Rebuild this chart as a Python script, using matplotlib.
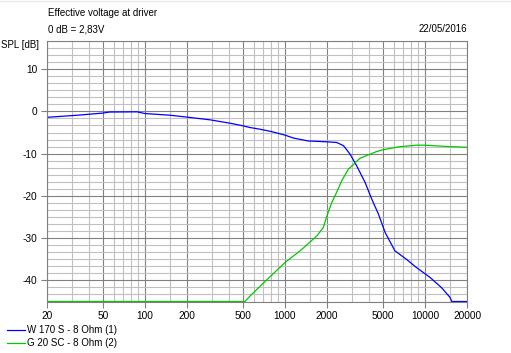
import numpy as np
import matplotlib.pyplot as plt
from matplotlib.ticker import FixedLocator, NullFormatter

plt.rcParams['font.family'] = ['Liberation Sans', 'DejaVu Sans']
plt.rcParams['axes.unicode_minus'] = False

# W 170 S - 8 Ohm (1)
w_freq = [20, 33, 50, 56, 88, 100, 151, 200, 293, 407, 500, 560, 660, 784, 1000,
          1150, 1470, 2000, 2340, 2620, 2920, 3260, 3740, 4180, 4660, 5210, 6110,
          7380, 8740, 10890, 13140, 15100, 15600, 20000]
w_db = [-1.4, -0.9, -0.4, -0.15, -0.1, -0.5, -0.9, -1.35, -2.0, -2.8, -3.4, -3.8,
        -4.2, -4.7, -5.6, -6.3, -7.0, -7.2, -7.35, -8.1, -10.1, -12.9, -16.8, -20.8,
        -24.3, -28.7, -33.0, -35.0, -37.0, -39.3, -41.7, -44.0, -45.0, -45.0]

# G 20 SC - 8 Ohm (2)
g_freq = [20, 520, 560, 660, 1000, 1286, 1690, 1880, 2000, 2160, 2340, 2550, 2840,
          3440, 4520, 5000, 6460, 8740, 10000, 14340, 20000]
g_db = [-45.0, -45.0, -43.8, -41.5, -35.8, -33.0, -29.5, -27.5, -24.7, -21.6, -19.2,
        -16.4, -13.7, -11.1, -9.5, -9.1, -8.4, -8.0, -8.0, -8.3, -8.5]

x_major = [20, 50, 100, 200, 500, 1000, 2000, 5000, 10000, 20000]
x_minor = [30, 40, 60, 70, 80, 90, 150, 300, 400, 600, 700, 800, 900, 1500,
           3000, 4000, 6000, 7000, 8000, 9000, 15000]
y_major = [-40, -30, -20, -10, 0, 10]
y_minor = list(np.arange(-27, 11) * 5 / 3)

fig = plt.figure(figsize=(5.11, 3.53), dpi=100)
ax = fig.add_axes([47 / 511, 51.5 / 353, 420 / 511, 260.5 / 353])

ax.plot(w_freq, w_db, color='#0000ff', lw=0.9)
ax.plot(g_freq, g_db, color='#00c800', lw=0.9)

ax.set_xscale('log')
ax.set_xlim(20, 20000)
ax.set_ylim(-45, 50 / 3)

ax.xaxis.set_major_locator(FixedLocator(x_major))
ax.xaxis.set_minor_locator(FixedLocator(x_minor))
ax.xaxis.set_minor_formatter(NullFormatter())
ax.set_xticklabels([str(v) for v in x_major])
ax.yaxis.set_major_locator(FixedLocator(y_major))
ax.yaxis.set_minor_locator(FixedLocator(y_minor))

ax.set_axisbelow(True)
ax.grid(which='minor', color='#c0c0c0', lw=0.8)
ax.grid(which='major', color='#808080', lw=0.8)
ax.tick_params(which='major', length=4, width=0.8, color='#808080',
               labelsize=7.3, pad=3)
ax.tick_params(which='minor', length=0)
for s in ax.spines.values():
    s.set_color('#808080')
    s.set_linewidth(0.8)

fs = 7
fig.text(48 / 511, 1 - 13 / 353, 'Effective voltage at driver', fontsize=fs, va='center')
fig.text(48 / 511, 1 - 29.5 / 353, '0 dB = 2,83V', fontsize=fs, va='center')
fig.text(467 / 511, 1 - 29.5 / 353, '22/05/2016', fontsize=fs, va='center', ha='right')
fig.text(1 / 511, 1 - 45 / 353, 'SPL [dB]', fontsize=fs, va='center')

# legend below the chart
fig.add_artist(plt.Line2D([7 / 511, 25 / 511], [1 - 330 / 353] * 2, color='#0000ff', lw=0.9))
fig.add_artist(plt.Line2D([7 / 511, 25 / 511], [1 - 343 / 353] * 2, color='#00c800', lw=0.9))
fig.text(27 / 511, 1 - 330 / 353, 'W 170 S - 8 Ohm (1)', fontsize=fs, va='center')
fig.text(27 / 511, 1 - 343 / 353, 'G 20 SC - 8 Ohm (2)', fontsize=fs, va='center')

# thin window edge along the top
fig.add_artist(plt.Line2D([0, 1], [1 - 0.5 / 353] * 2, color='#e8e8e8', lw=1))

fig.savefig('out.png', dpi=100)
